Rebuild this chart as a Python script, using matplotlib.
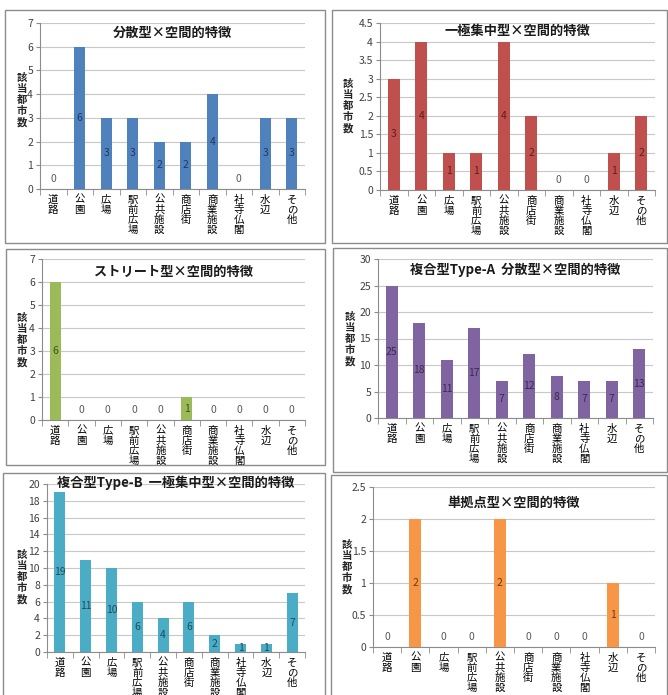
import matplotlib.pyplot as plt
from matplotlib.patches import Rectangle
import numpy as np

plt.rcParams['font.family'] = ['Noto Sans CJK JP', 'DejaVu Sans']

# カテゴリ（空間的特徴）
categories = ['道路', '公園', '広場', '駅前広場', '公共施設', '商店街', '商業施設', '社寺仏閣', '水辺', 'その他']

# 各類型の該当都市数
bunsan = [0, 6, 3, 3, 2, 2, 4, 0, 3, 3]
ikkyoku = [3, 4, 1, 1, 4, 2, 0, 0, 1, 2]
street = [6, 0, 0, 0, 0, 1, 0, 0, 0, 0]
fukugou_a = [25, 18, 11, 17, 7, 12, 8, 7, 7, 13]
fukugou_b = [19, 11, 10, 6, 4, 6, 2, 1, 1, 7]
tankyoten = [0, 2, 0, 0, 2, 0, 0, 0, 1, 0]

titles = ['分散型×空間的特徴', '一極集中型×空間的特徴', 'ストリート型×空間的特徴',
          '複合型Type-A  分散型×空間的特徴', '複合型Type-B  一極集中型×空間的特徴', '単拠点型×空間的特徴']
series = [bunsan, ikkyoku, street, fukugou_a, fukugou_b, tankyoten]
colors = ['#4F81BD', '#C0504D', '#9BBB59', '#8064A2', '#4BACC6', '#F79646']
label_colors = ['#1F3A60', '#5E1F1D', '#3F4F1F', '#3A2B50', '#1D4E5C', '#6E3A10']
ylims = [(7, 1), (4.5, 0.5), (7, 1), (30, 5), (20, 2), (2.5, 0.5)]

# パネル枠とプロット領域（ピクセル: 左, 上, 右, 下）
panels = [(5, 10, 325, 243), (332, 10, 667, 243), (6, 249, 325, 465),
          (333, 248, 667, 472), (3, 473, 325, 700), (331, 475, 667, 700)]
plots = [(40, 23, 305, 189), (380, 23, 655, 190), (42, 259, 305, 420),
         (378, 259, 653, 418), (47, 484, 305, 652), (373, 487, 655, 647)]
title_y = [33, 31, 272, 270, 483, 503]
title_size = [9.5, 9.5, 9.5, 9.5, 9.5, 9.5]
ylabel_xy = [(22, 100), (348, 106), (22, 340), (350, 339), (22, 577), (347, 567)]

W, H = 668, 695
fig = plt.figure(figsize=(W / 100, H / 100), dpi=100)

for (l, t, r, b) in panels:
    fig.add_artist(Rectangle((l / W, 1 - b / H), (r - l) / W, (b - t) / H,
                             transform=fig.transFigure, fill=False,
                             edgecolor='#8c8c8c', linewidth=1.0))

x = np.arange(len(categories))
vlabels = ['\n'.join(c) for c in categories]

for i in range(6):
    l, t, r, b = plots[i]
    ax = fig.add_axes([l / W, 1 - b / H, (r - l) / W, (b - t) / H])
    vals = series[i]
    ax.bar(x, vals, width=0.42, color=colors[i], zorder=3)
    ymax, step = ylims[i]
    ax.set_ylim(0, ymax)
    ax.set_xlim(-0.5, len(categories) - 0.5)
    yt = np.arange(0, ymax + step / 2, step)
    ax.set_yticks(yt)
    ax.set_yticklabels([('%g' % v) for v in yt], fontsize=7.5, color='#404040')
    ax.yaxis.grid(True, color='#c8c8c8', linewidth=0.8, zorder=0)
    ax.set_xticks(x)
    ax.set_xticklabels(vlabels, fontsize=7.5, linespacing=1.0, va='top')
    ax.set_xticks(np.arange(-0.5, len(categories), 1), minor=True)
    ax.tick_params(axis='x', which='major', length=0, pad=4)
    ax.tick_params(axis='x', which='minor', length=4, color='#8c8c8c', direction='out')
    ax.tick_params(axis='y', length=3, color='#8c8c8c', pad=2)
    for s in ['top', 'right']:
        ax.spines[s].set_visible(False)
    ax.spines['left'].set_color('#8c8c8c')
    ax.spines['bottom'].set_color('#8c8c8c')

    for xi, v in zip(x, vals):
        if v == 0:
            ax.annotate('0', (xi, 0), xytext=(0, 7), textcoords='offset points',
                        ha='center', va='center', fontsize=7.5, color='#595959')
        else:
            ax.text(xi, v / 2, str(v), ha='center', va='center', fontsize=7.5,
                    color=label_colors[i], zorder=4)

    ax.text(0.5, 1 - (title_y[i] - t) / (b - t), titles[i], transform=ax.transAxes,
            ha='center', va='center', fontsize=title_size[i], fontweight='bold',
            color='#1a1a1a')

    # 縦書きの軸ラベル
    lx, ly = ylabel_xy[i]
    fig.text(lx / W, 1 - ly / H, '\n'.join('該当都市数'),
             ha='center', va='center', fontsize=7.5, linespacing=1.15, fontweight='bold',
             color='#262626')

fig.savefig('out.png', dpi=100)
